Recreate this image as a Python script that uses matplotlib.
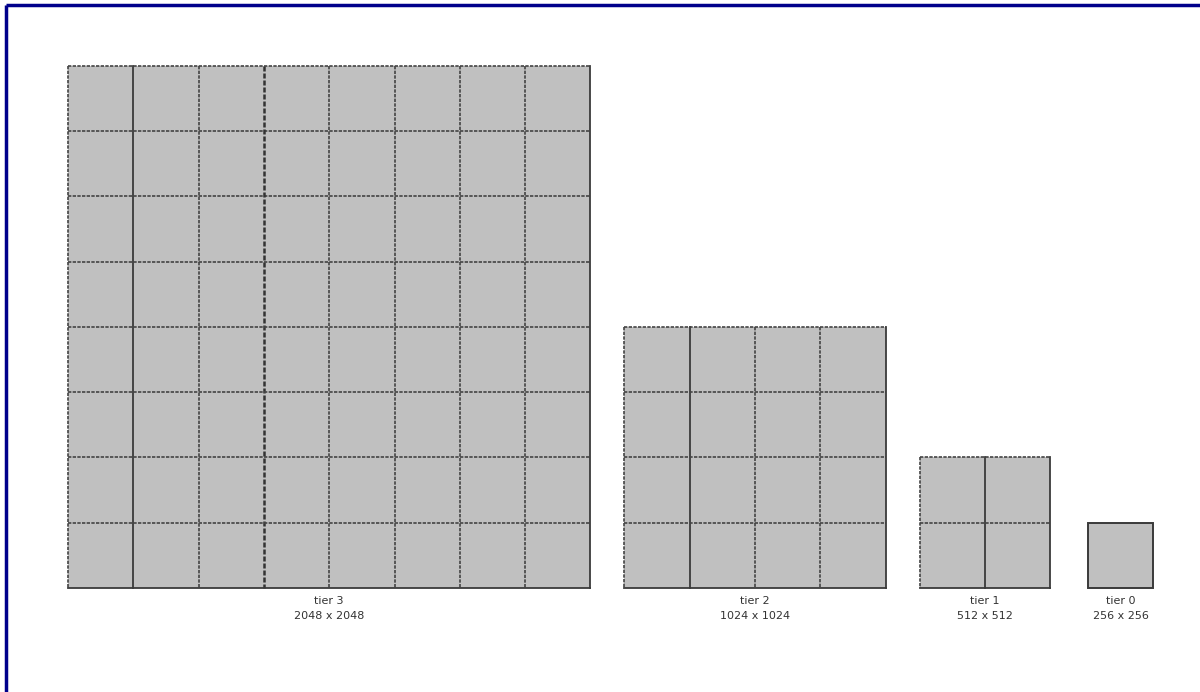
import matplotlib
matplotlib.use('Agg')
import matplotlib.pyplot as plt
from matplotlib.patches import Rectangle

# tiers of the pyramid, finest first
tier_names = ['tier 3', 'tier 2', 'tier 1', 'tier 0']
tier_sizes = [2048, 1024, 512, 256]
tile_size = 256

fill = '#c0c0c0'
edge = '#3a3a3a'
tile_px = 65.3
gaps_px = [34, 34, 38]
x0 = 68
base_y = 588

fig = plt.figure(figsize=(12, 6.92), dpi=100)
ax = fig.add_axes([0, 0, 1, 1])
ax.set_xlim(0, 1200)
ax.set_ylim(692, 0)
ax.axis('off')

# navy frame (top and left only)
ax.plot([6, 1200], [5, 5], color='#00008b', lw=2.5, solid_capstyle='butt')
ax.plot([6, 6], [5, 692], color='#00008b', lw=2.5, solid_capstyle='butt')

dash = dict(color='#444444', lw=1.2, linestyle=(0, (2.0, 0.8)))
heavy_dash = dict(color='#333333', lw=1.8, linestyle=(0, (2.0, 0.8)))
solid = dict(color=edge, lw=1.3, linestyle='-')

x = x0
for k, (name, size) in enumerate(zip(tier_names, tier_sizes)):
    n = size // tile_size
    w = n * tile_px
    top = base_y - w
    ax.add_patch(Rectangle((x, top), w, w, facecolor=fill, edgecolor='none'))
    if n == 1:
        ax.add_patch(Rectangle((x, top), w, w, facecolor='none', edgecolor=edge, lw=1.4))
    else:
        # inner and left/top lines dashed
        for i in range(n):
            xi = x + i * tile_px
            if i == 1:
                style = solid
            elif i == 3 and n == 8:
                style = heavy_dash
            else:
                style = dash
            ax.plot([xi, xi], [top, base_y], **style)
            yi = top + i * tile_px
            ax.plot([x, x + w], [yi, yi], **dash)
        # right and bottom edges solid
        ax.plot([x + w, x + w], [top, base_y], **solid)
        ax.plot([x, x + w], [base_y, base_y], **solid)
    cx = x + w / 2
    ax.text(cx, 596, name, ha='center', va='top', fontsize=8, color='#333333')
    ax.text(cx, 611, f'{size} x {size}', ha='center', va='top', fontsize=8, color='#333333')
    if k < len(gaps_px):
        x += w + gaps_px[k]

fig.savefig('out.png', dpi=100, facecolor='white')
